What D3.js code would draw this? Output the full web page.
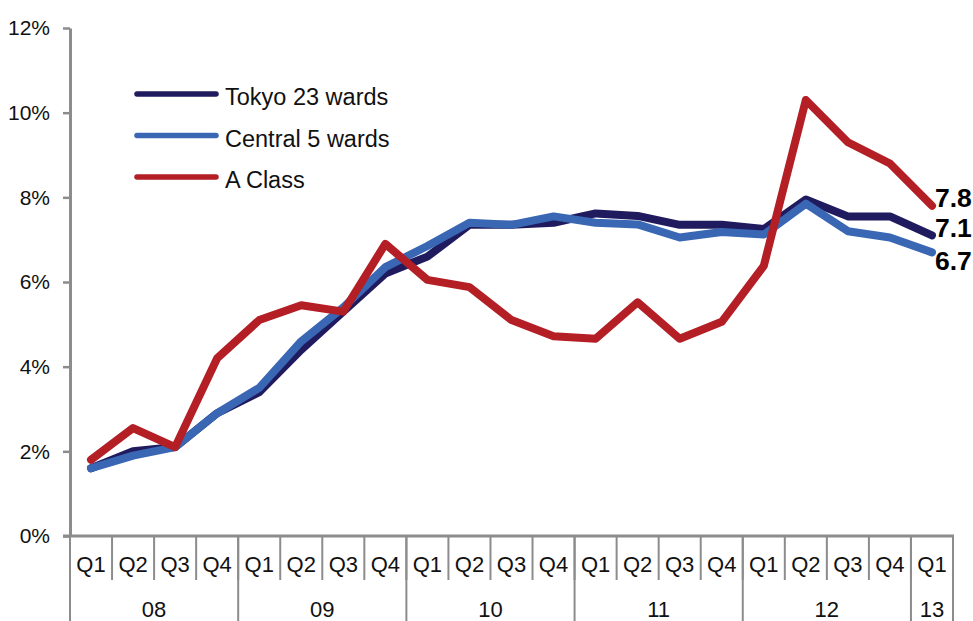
<!DOCTYPE html>
<html><head><meta charset="utf-8">
<script src="https://cdn.jsdelivr.net/npm/d3@7"></script>
<style>body{margin:0;background:#fff}svg{display:block}text{font-family:"Liberation Sans",Arial,sans-serif}</style>
</head><body>
<svg id="c" width="973" height="621"></svg>
<script>
const quarters = ["Q1","Q2","Q3","Q4","Q1","Q2","Q3","Q4","Q1","Q2","Q3","Q4","Q1","Q2","Q3","Q4","Q1","Q2","Q3","Q4","Q1"];
const years = [{label:"08",n:4},{label:"09",n:4},{label:"10",n:4},{label:"11",n:4},{label:"12",n:4},{label:"13",n:1}];
const tokyo23 = [1.6,2.0,2.1,2.9,3.4,4.4,5.3,6.2,6.6,7.35,7.35,7.4,7.62,7.56,7.35,7.35,7.25,7.95,7.55,7.55,7.1];
const central5 = [1.6,1.9,2.1,2.9,3.5,4.6,5.4,6.35,6.85,7.4,7.35,7.55,7.4,7.36,7.05,7.18,7.12,7.85,7.2,7.05,6.7];
const aClass = [1.8,2.55,2.1,4.2,5.1,5.45,5.3,6.9,6.05,5.88,5.1,4.72,4.66,5.52,4.66,5.06,6.38,10.3,9.3,8.8,7.8];
const yTicks = [0,2,4,6,8,10,12];
const series = [
  {name:"Tokyo 23 wards", values:tokyo23, color:"#1f1b5e", end:"7.1"},
  {name:"Central 5 wards", values:central5, color:"#3a67b3", end:"6.7"},
  {name:"A Class", values:aClass, color:"#b41e25", end:"7.8"}
];

const svg = d3.select("#c");
const L = 70, R = 953, T = 28, B = 536;
const idx = d3.range(quarters.length);
const x = d3.scaleBand().domain(idx).range([L, R]);
const y = d3.scaleLinear().domain([0, 12]).range([B, T]);
const axisColor = "#8c8c8c";

// y axis
const ya = svg.append("g").attr("transform", `translate(${L},0)`)
  .call(d3.axisLeft(y).tickValues(yTicks).tickFormat(d => d + "%").tickSize(7).tickSizeOuter(0));
ya.select(".domain").attr("stroke", axisColor).attr("stroke-width", 3);
ya.selectAll(".tick line").attr("stroke", axisColor).attr("stroke-width", 2.5);
ya.selectAll(".tick text").attr("font-size", 21).attr("fill", "#111").attr("x", -20)
  .attr("font-family", '"Liberation Sans",Arial,sans-serif');

// x axis line
svg.append("line").attr("x1", L - 7).attr("x2", R + 1).attr("y1", B).attr("y2", B)
  .attr("stroke", axisColor).attr("stroke-width", 3);

// quarter separators
const bw = x.bandwidth();
const gx = svg.append("g");
idx.forEach(i => {
  gx.append("line").attr("x1", x(i)).attr("x2", x(i)).attr("y1", B).attr("y2", 580)
    .attr("stroke", axisColor).attr("stroke-width", 2);
  gx.append("text").attr("x", x(i) + bw / 2).attr("y", 572).attr("text-anchor", "middle")
    .attr("font-size", 22).attr("fill", "#111").text(quarters[i]);
});
// year separators and labels
let start = 0;
years.forEach(yr => {
  const x0 = x(start), x1 = start + yr.n < quarters.length ? x(start + yr.n) : R;
  gx.append("line").attr("x1", x0).attr("x2", x0).attr("y1", B).attr("y2", 621)
    .attr("stroke", axisColor).attr("stroke-width", 2);
  gx.append("text").attr("x", (x0 + x1) / 2).attr("y", 617).attr("text-anchor", "middle")
    .attr("font-size", 22).attr("fill", "#111").text(yr.label);
  start += yr.n;
});
gx.append("line").attr("x1", R).attr("x2", R).attr("y1", B).attr("y2", 621)
  .attr("stroke", axisColor).attr("stroke-width", 2);

// lines
const line = d3.line().x((d, i) => x(i) + bw / 2).y(d => y(d));
series.forEach(s => {
  svg.append("path").datum(s.values).attr("d", line).attr("fill", "none")
    .attr("stroke", s.color).attr("stroke-width", 8)
    .attr("stroke-linejoin", "round").attr("stroke-linecap", "round");
});

// end labels
const last = quarters.length - 1;
const endOffsets = {"7.8": 1, "7.1": 1.5, "6.7": 18};
series.forEach(s => {
  svg.append("text").attr("x", x(last) + bw / 2 + 3)
    .attr("y", y(s.values[last]) + endOffsets[s.end])
    .attr("font-size", 26.5).attr("font-weight", "bold").attr("fill", "#000").text(s.end);
});

// legend
series.forEach((s, i) => {
  const ly = 94 + i * 41.5;
  svg.append("line").attr("x1", 137).attr("x2", 216).attr("y1", ly).attr("y2", ly)
    .attr("stroke", s.color).attr("stroke-width", 5.5).attr("stroke-linecap", "round");
  svg.append("text").attr("x", 225).attr("y", ly + 11).attr("font-size", 23.5).attr("fill", "#111").text(s.name);
});
</script>
</body></html>
